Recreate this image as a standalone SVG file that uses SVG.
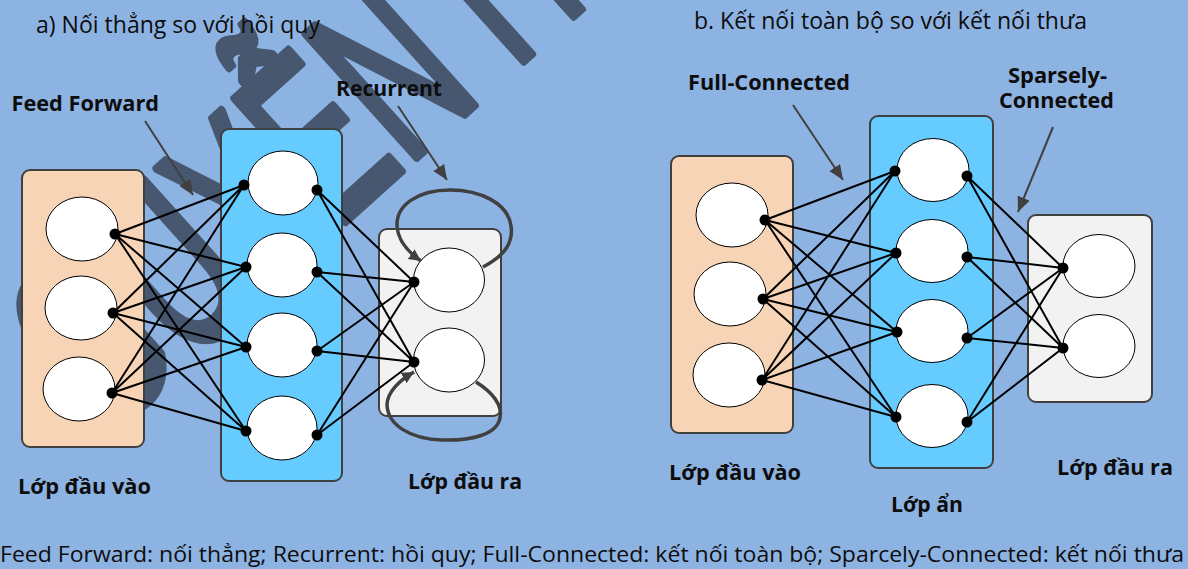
<svg xmlns="http://www.w3.org/2000/svg" width="1188" height="569" viewBox="0 0 1188 569">
<style>
  text{font-family:"Open Sans","Noto Sans","DejaVu Sans",sans-serif;fill:#0d0d0d}
  .ttl{font-size:23px}
  .lbl{font-size:21px;font-weight:700}
  .cap{font-size:22px}
  .box{stroke:#404040;stroke-width:2}
  .in{fill:#F7D4B6}
  .hid{fill:#66CCFF}
  .out{fill:#F2F2F2}
  .neuron{fill:#fff;stroke:#000;stroke-width:1}
  .dot{fill:#000}
  .edge{stroke:#000;stroke-width:2;fill:none}
  .ann{stroke:#404040;stroke-width:2;fill:none;marker-end:url(#ah)}
  .loop{stroke:#404040;stroke-width:3.5;fill:none;marker-end:url(#lh)}
  .wm{font-family:"Liberation Sans",Arial,sans-serif;font-size:240px;fill:#46576f;stroke:#46576f;stroke-width:9;stroke-linejoin:round}
</style>
<defs>
  <marker id="ah" markerUnits="userSpaceOnUse" markerWidth="16" markerHeight="14" refX="15" refY="6.5" orient="auto">
    <path d="M0,0 L15,6.5 L0,13 Z" fill="#404040"/>
  </marker>
  <marker id="lh" markerUnits="userSpaceOnUse" markerWidth="14" markerHeight="14" refX="12" refY="6" orient="auto">
    <path d="M0,0 L12,6 L0,12 Z" fill="#404040"/>
  </marker>
</defs>

<rect x="0" y="0" width="1188" height="569" fill="#8DB3E2"/>

<g id="watermark">
  <text class="wm" transform="translate(413,147) rotate(-42) scale(0.6,1)" x="-709" y="10">GUYỄN H</text>
</g>

<!-- Panel a -->
<g id="a-input-layer">
  <rect class="box in" x="22" y="170" width="122" height="277" rx="8"/>
  <g id="a-in1"><ellipse class="neuron" cx="82" cy="229" rx="36" ry="32"/><circle class="dot" cx="115" cy="234" r="5.5"/></g>
  <g id="a-in2"><ellipse class="neuron" cx="81" cy="308" rx="36" ry="32"/><circle class="dot" cx="113" cy="313" r="5.5"/></g>
  <g id="a-in3"><ellipse class="neuron" cx="79" cy="389" rx="36" ry="32"/><circle class="dot" cx="112" cy="393" r="5.5"/></g>
</g>
<g id="a-hidden-layer">
  <rect class="box hid" x="221" y="129" width="121" height="352" rx="8"/>
  <g id="a-h1"><ellipse class="neuron" cx="283" cy="183" rx="35" ry="32"/><circle class="dot" cx="244" cy="185" r="5.5"/><circle class="dot" cx="317" cy="190" r="5.5"/></g>
  <g id="a-h2"><ellipse class="neuron" cx="282" cy="265" rx="35" ry="32"/><circle class="dot" cx="246" cy="267" r="5.5"/><circle class="dot" cx="317" cy="272" r="5.5"/></g>
  <g id="a-h3"><ellipse class="neuron" cx="282" cy="345" rx="35" ry="32"/><circle class="dot" cx="246" cy="347" r="5.5"/><circle class="dot" cx="317" cy="351" r="5.5"/></g>
  <g id="a-h4"><ellipse class="neuron" cx="282" cy="428" rx="35" ry="32"/><circle class="dot" cx="246" cy="431" r="5.5"/><circle class="dot" cx="317" cy="435" r="5.5"/></g>
</g>
<g id="a-output-layer">
  <rect class="box out" x="379" y="229" width="122" height="187" rx="8"/>
  <g id="a-o1"><ellipse class="neuron" cx="449" cy="280" rx="35.5" ry="32"/><circle class="dot" cx="414" cy="282" r="5.5"/></g>
  <g id="a-o2"><ellipse class="neuron" cx="449" cy="360" rx="35.5" ry="32"/><circle class="dot" cx="414" cy="362" r="5.5"/></g>
</g>

<!-- Panel b -->
<g id="b-input-layer">
  <rect class="box in" x="671" y="156" width="122" height="277" rx="8"/>
  <g id="b-in1"><ellipse class="neuron" cx="732" cy="215" rx="36" ry="32"/><circle class="dot" cx="765" cy="220" r="5.5"/></g>
  <g id="b-in2"><ellipse class="neuron" cx="730" cy="294" rx="36" ry="32"/><circle class="dot" cx="763" cy="299" r="5.5"/></g>
  <g id="b-in3"><ellipse class="neuron" cx="729" cy="375" rx="36" ry="32"/><circle class="dot" cx="762" cy="380" r="5.5"/></g>
</g>
<g id="b-hidden-layer">
  <rect class="box hid" x="870" y="116" width="123" height="352" rx="8"/>
  <g id="b-h1"><ellipse class="neuron" cx="933" cy="170" rx="36" ry="31.5"/><circle class="dot" cx="895" cy="171" r="5.5"/><circle class="dot" cx="967" cy="176" r="5.5"/></g>
  <g id="b-h2"><ellipse class="neuron" cx="932" cy="251" rx="36" ry="31.5"/><circle class="dot" cx="896" cy="253" r="5.5"/><circle class="dot" cx="967" cy="257" r="5.5"/></g>
  <g id="b-h3"><ellipse class="neuron" cx="932" cy="331" rx="36" ry="31.5"/><circle class="dot" cx="897" cy="332" r="5.5"/><circle class="dot" cx="967" cy="338" r="5.5"/></g>
  <g id="b-h4"><ellipse class="neuron" cx="932" cy="416" rx="36" ry="31.5"/><circle class="dot" cx="896" cy="417" r="5.5"/><circle class="dot" cx="967" cy="422" r="5.5"/></g>
</g>
<g id="b-output-layer">
  <rect class="box out" x="1028" y="215" width="124" height="187" rx="8"/>
  <g id="b-o1"><ellipse class="neuron" cx="1099" cy="266" rx="36" ry="31.5"/><circle class="dot" cx="1063" cy="268" r="5.5"/></g>
  <g id="b-o2"><ellipse class="neuron" cx="1099" cy="346" rx="36" ry="31.5"/><circle class="dot" cx="1063" cy="348" r="5.5"/></g>
</g>

<g id="connectors">
  <path class="edge" d="M115,234 L244,185 M115,234 L246,267 M115,234 L246,347 M115,234 L246,431
    M113,313 L244,185 M113,313 L246,267 M113,313 L246,347 M113,313 L246,431
    M112,393 L244,185 M112,393 L246,267 M112,393 L246,347 M112,393 L246,431"/>
  <path class="edge" d="M317,190 L414,282 M317,190 L414,362 M317,272 L414,282 M317,272 L414,362
    M317,351 L414,282 M317,351 L414,362 M317,435 L414,282 M317,435 L414,362"/>
  <path class="edge" d="M765,220 L895,171 M765,220 L896,253 M765,220 L897,332 M765,220 L896,417
    M763,299 L895,171 M763,299 L896,253 M763,299 L897,332 M763,299 L896,417
    M762,380 L895,171 M762,380 L896,253 M762,380 L897,332 M762,380 L896,417"/>
  <path class="edge" d="M967,176 L1063,268 M967,176 L1063,348 M967,257 L1063,268 M967,257 L1063,348
    M967,338 L1063,268 M967,338 L1063,348 M967,422 L1063,268 M967,422 L1063,348"/>
  <path class="loop" d="M483,267 C500,258 514,246 511,226 C508,203 480,190 450,190 C418,190 396,205 397,226 C398,241 408,252 421,261"/>
  <path class="loop" d="M476,382 C492,392 503,405 500,418 C497,435 470,441 442,440 C410,439 388,425 387,405 C387,392 400,380 414,372"/>
  <line class="ann" x1="145" y1="121" x2="193" y2="195"/>
  <line class="ann" x1="398" y1="106" x2="447" y2="180"/>
  <line class="ann" x1="793" y1="105" x2="843" y2="180"/>
  <line class="ann" x1="1053" y1="127" x2="1018" y2="212"/>
</g>

<g id="labels">
  <text class="ttl" x="36" y="33" textLength="284" lengthAdjust="spacingAndGlyphs">a) Nối thẳng so với hồi quy</text>
  <text class="ttl" x="694" y="29" textLength="393" lengthAdjust="spacingAndGlyphs">b. Kết nối toàn bộ so với kết nối thưa</text>
  <text class="lbl" x="11.5" y="111" textLength="147.5" lengthAdjust="spacingAndGlyphs">Feed Forward</text>
  <text class="lbl" x="336" y="96" textLength="106" lengthAdjust="spacingAndGlyphs">Recurrent</text>
  <text class="lbl" x="688" y="90" textLength="162" lengthAdjust="spacingAndGlyphs">Full-Connected</text>
  <text class="lbl"><tspan x="1008" y="83" textLength="99" lengthAdjust="spacingAndGlyphs">Sparsely-</tspan><tspan x="999" y="108" textLength="115" lengthAdjust="spacingAndGlyphs">Connected</tspan></text>
  <text class="lbl" x="18" y="494" textLength="133" lengthAdjust="spacingAndGlyphs">Lớp đầu vào</text>
  <text class="lbl" x="408" y="489" textLength="114" lengthAdjust="spacingAndGlyphs">Lớp đầu ra</text>
  <text class="lbl" x="669" y="480" textLength="132" lengthAdjust="spacingAndGlyphs">Lớp đầu vào</text>
  <text class="lbl" x="891" y="512" textLength="72" lengthAdjust="spacingAndGlyphs">Lớp ẩn</text>
  <text class="lbl" x="1057" y="475" textLength="116" lengthAdjust="spacingAndGlyphs">Lớp đầu ra</text>
  <text class="cap" x="0" y="562" textLength="1184" lengthAdjust="spacingAndGlyphs">Feed Forward: nối thẳng; Recurrent: hồi quy; Full-Connected: kết nối toàn bộ; Sparcely-Connected: kết nối thưa</text>
</g>
</svg>
